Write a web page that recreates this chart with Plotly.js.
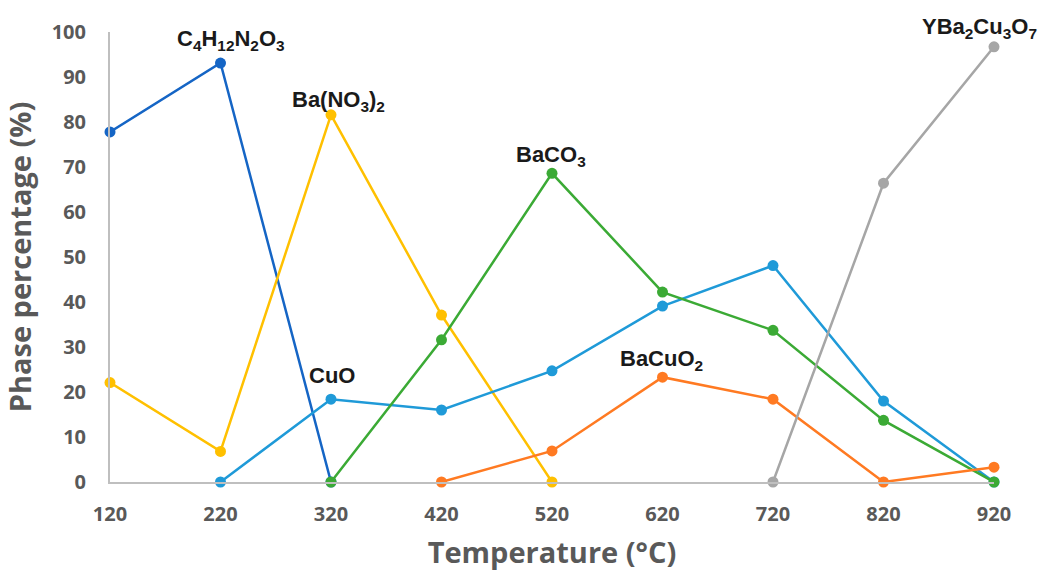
<!DOCTYPE html>
<html><head><meta charset="utf-8">
<script src="https://cdn.plot.ly/plotly-3.0.1.min.js"></script>
<style>html,body{margin:0;padding:0;background:#fff}#chart{width:1041px;height:571px}</style>
</head><body><div id="chart"></div>
<script>
const temps = [120, 220, 320, 420, 520, 620, 720, 820, 920];
const c4h12 = [77.8, 93.1, 0, null, null, null, null, null, null];
const bano3 = [22.1, 6.8, 81.6, 37.1, 0, null, null, null, null];
const cuo = [null, 0, 18.4, 16.0, 24.7, 39.1, 48.1, 18.0, 0];
const baco3 = [null, null, 0, 31.6, 68.6, 42.2, 33.7, 13.7, 0];
const bacuo2 = [null, null, null, 0, 6.9, 23.3, 18.4, 0, 3.3];
const ybco = [null, null, null, null, null, null, 0, 66.4, 96.7];
const names = ['C<sub>4</sub>H<sub>12</sub>N<sub>2</sub>O<sub>3</sub>', 'Ba(NO<sub>3</sub>)<sub>2</sub>', 'CuO', 'BaCO<sub>3</sub>', 'BaCuO<sub>2</sub>', 'YBa<sub>2</sub>Cu<sub>3</sub>O<sub>7</sub>'];
const colors = ['#1565C5', '#FFC000', '#1F9AD8', '#3BAA35', '#FF7A22', '#A6A6A6'];
const series = [c4h12, bano3, cuo, baco3, bacuo2, ybco];

const traces = series.map((s, i) => ({
  x: temps, y: s, type: 'scatter', mode: 'lines+markers', name: names[i],
  line: {color: colors[i], width: 2.5}, marker: {color: colors[i], size: 11},
  cliponaxis: false, connectgaps: false
}));

const labelPos = [[231, 40], [338, 101], [332, 375], [551, 156], [661, 360], [979, 28]];
const annotations = names.map((n, i) => ({
  xref: 'paper', yref: 'paper',
  x: (labelPos[i][0] - 110) / (994 - 110), y: 1 - (labelPos[i][1] - 32) / (482 - 32),
  text: '<b>' + n + '</b>', showarrow: false, xanchor: 'center', yanchor: 'middle',
  font: {family: 'Liberation Sans, Arial, sans-serif', size: 22, color: '#1a1a1a'}
}));

const layout = {
  width: 1041, height: 571,
  margin: {l: 110, r: 47, t: 32, b: 89},
  paper_bgcolor: '#fff', plot_bgcolor: '#fff',
  showlegend: false,
  xaxis: {
    range: [120, 920], tickvals: temps, ticktext: temps.map(String),
    showgrid: false, zeroline: false, showline: true, linecolor: '#BFBFBF', linewidth: 2,
    ticks: '', ticklabelstandoff: 13,
    tickfont: {family: 'Open Sans, sans-serif', size: 20, color: '#595959', weight: 'bold'},
    title: {text: '<b>Temperature (°C)</b>', standoff: 18, font: {family: 'Open Sans, sans-serif', size: 29, color: '#595959'}}
  },
  yaxis: {
    range: [0, 100], dtick: 10,
    showgrid: false, zeroline: false, showline: true, linecolor: '#BFBFBF', linewidth: 2,
    ticks: '', ticklabelstandoff: 18,
    tickfont: {family: 'Open Sans, sans-serif', size: 20, color: '#595959', weight: 'bold'},
    title: {text: '<b>Phase percentage (%)</b>', standoff: 12, font: {family: 'Open Sans, sans-serif', size: 29, color: '#595959'}}
  },
  annotations: annotations
};
Plotly.newPlot('chart', traces, layout, {displayModeBar: false, staticPlot: true});
</script></body></html>
